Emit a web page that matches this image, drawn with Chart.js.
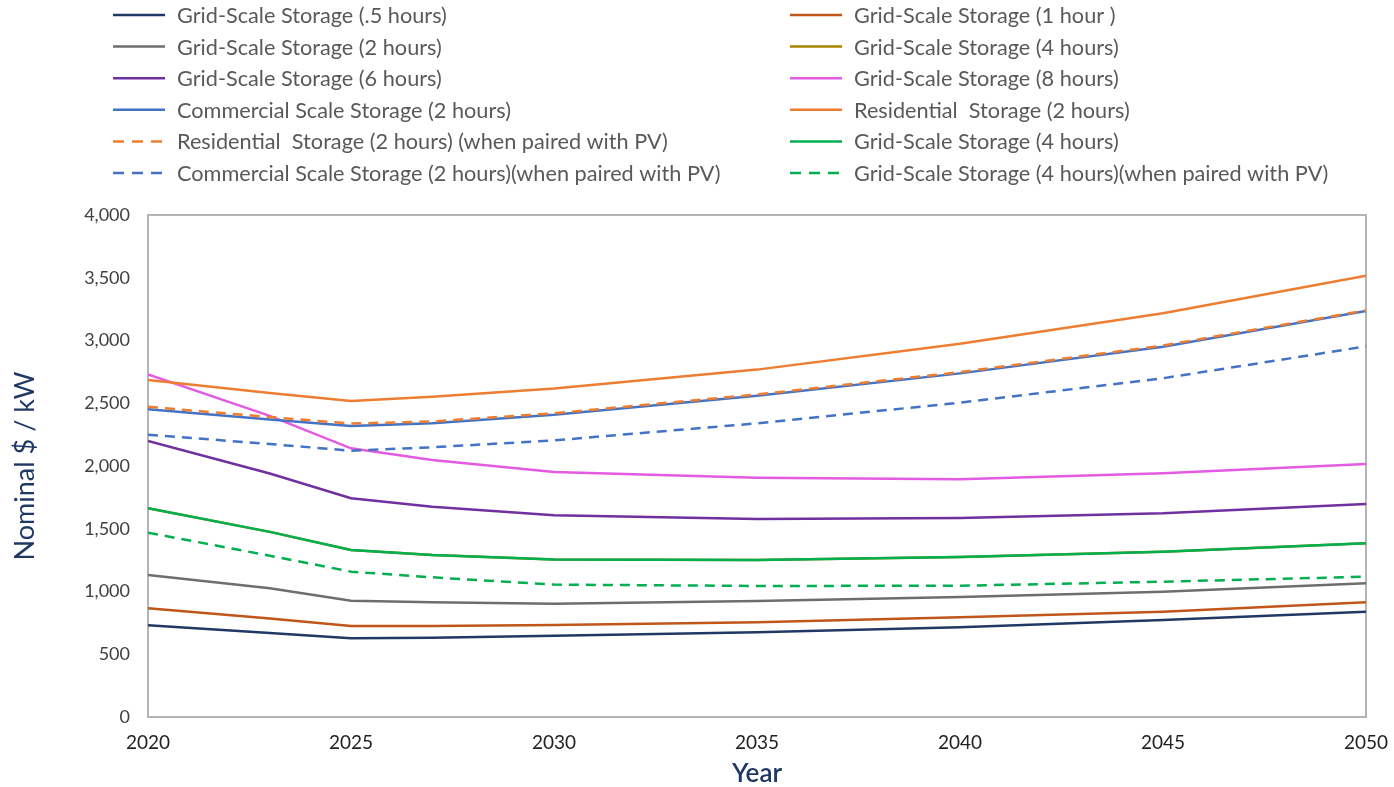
<!DOCTYPE html>
<html>
<head>
<meta charset="utf-8">
<script src="https://cdn.jsdelivr.net/npm/chart.js@4.4.0/dist/chart.umd.min.js"></script>
<style>
  html, body { margin: 0; padding: 0; background: #ffffff; }
  #wrap { width: 1394px; height: 787px; position: relative; }
</style>
</head>
<body>
<div id="wrap"><canvas id="c" width="1394" height="787"></canvas></div>
<script>
// Years on the horizontal axis
const years = [2020, 2023, 2025, 2027, 2030, 2035, 2040, 2045, 2050];

// Nominal $ / kW by technology
const gridHalfHour      = [731, 670, 627, 632, 648, 675, 716, 773, 839];
const gridOneHour       = [866, 785, 725, 725, 733, 754, 795, 839, 914];
const gridTwoHours      = [1131, 1025, 927, 914, 903, 924, 956, 998, 1065];
const gridFourHoursAlt  = [1663, 1475, 1331, 1291, 1254, 1251, 1275, 1317, 1384];
const gridSixHours      = [2199, 1940, 1743, 1676, 1607, 1578, 1585, 1623, 1697];
const gridEightHours    = [2730, 2400, 2141, 2048, 1952, 1907, 1895, 1942, 2016];
const commercialTwo     = [2452, 2370, 2319, 2340, 2408, 2560, 2738, 2951, 3235];
const residentialTwo    = [2685, 2582, 2518, 2552, 2617, 2768, 2975, 3217, 3516];
const residentialTwoPV  = [2472, 2390, 2338, 2355, 2420, 2570, 2748, 2960, 3240];
const gridFourHours     = [1663, 1475, 1331, 1291, 1254, 1251, 1275, 1317, 1384];
const commercialTwoPV   = [2250, 2175, 2122, 2149, 2204, 2340, 2505, 2699, 2953];
const gridFourHoursPV   = [1469, 1285, 1158, 1113, 1055, 1044, 1046, 1078, 1118];

// Y axis tick values
const yTicks = [0, 500, 1000, 1500, 2000, 2500, 3000, 3500, 4000];
// X axis tick values
const xTicks = [2020, 2025, 2030, 2035, 2040, 2045, 2050];

const seriesLabels = [
  'Grid-Scale Storage (.5 hours)',
  'Grid-Scale Storage (1 hour )',
  'Grid-Scale Storage (2 hours)',
  'Grid-Scale Storage (4 hours)',
  'Grid-Scale Storage (6 hours)',
  'Grid-Scale Storage (8 hours)',
  'Commercial Scale Storage (2 hours)',
  'Residential  Storage (2 hours)',
  'Residential  Storage (2 hours) (when paired with PV)',
  'Grid-Scale Storage (4 hours)',
  'Commercial Scale Storage (2 hours)(when paired with PV)',
  'Grid-Scale Storage (4 hours)(when paired with PV)'
];
const seriesValues = [
  gridHalfHour, gridOneHour, gridTwoHours, gridFourHoursAlt, gridSixHours, gridEightHours,
  commercialTwo, residentialTwo, residentialTwoPV, gridFourHours, commercialTwoPV, gridFourHoursPV
];

// Styling
const seriesColors = [
  '#203864', '#C0561A', '#6E6E6E', '#A88500', '#7030A0', '#E35BE3',
  '#4472C4', '#ED7D31', '#ED7D31', '#00B050', '#4472C4', '#00B050'
];
const dashed = [false, false, false, false, false, false, false, false, true, false, true, true];

const datasets = seriesValues.map((vals, i) => ({
  label: seriesLabels[i],
  data: years.map((y, k) => ({ x: y, y: vals[k] })),
  borderColor: seriesColors[i],
  backgroundColor: seriesColors[i],
  borderWidth: 2.5,
  borderDash: dashed[i] ? [10, 7] : [],
  pointRadius: 0,
  tension: 0,
  fill: false,
  order: seriesValues.length - i
}));

const FONT = 'Lato, "Open Sans", sans-serif';

// Two-column legend above the plot
const twoColumnLegend = {
  id: 'twoColumnLegend',
  afterDraw(chart) {
    const ctx = chart.ctx;
    ctx.save();
    ctx.font = '21.7px ' + FONT;
    ctx.textBaseline = 'middle';
    ctx.textAlign = 'left';
    chart.data.datasets.forEach((ds, i) => {
      const col = i % 2;
      const row = Math.floor(i / 2);
      const x0 = col ? 790 : 113;
      const y = 15 + row * 31.6;
      ctx.strokeStyle = ds.borderColor;
      ctx.lineWidth = 2.5;
      ctx.setLineDash(ds.borderDash.length ? [11, 8] : []);
      ctx.beginPath();
      ctx.moveTo(x0, y);
      ctx.lineTo(x0 + 52, y);
      ctx.stroke();
      ctx.setLineDash([]);
      ctx.fillStyle = '#595959';
      ctx.fillText(ds.label, x0 + 64, y + 1);
    });
    ctx.restore();
  }
};

// Frame around the plot area
const plotFrame = {
  id: 'plotFrame',
  beforeDatasetsDraw(chart) {
    const { ctx, chartArea: a } = chart;
    ctx.save();
    ctx.strokeStyle = '#B4B4B4';
    ctx.lineWidth = 2;
    ctx.strokeRect(a.left, a.top, a.right - a.left, a.bottom - a.top);
    ctx.restore();
  }
};

new Chart(document.getElementById('c'), {
  type: 'line',
  data: { datasets },
  options: {
    responsive: false,
    animation: false,
    layout: { padding: { top: 215, right: 28, bottom: 0, left: 0 } },
    plugins: { legend: { display: false }, tooltip: { enabled: false } },
    scales: {
      x: {
        type: 'linear',
        min: 2020,
        max: 2050,
        afterBuildTicks: s => { s.ticks = xTicks.map(v => ({ value: v })); },
        afterFit: s => { s.height = 70; s.paddingLeft = 0; s.paddingRight = 0; },
        grid: { display: false, drawTicks: false },
        border: { display: false },
        ticks: {
          padding: 14,
          maxRotation: 0,
          color: '#222222',
          font: { family: FONT, size: 19 },
          callback: v => String(v)
        },
        title: {
          display: true,
          text: 'Year',
          color: '#1F3864',
          padding: { top: 0, bottom: 0 },
          font: { family: FONT, size: 26, weight: '600', lineHeight: 1 }
        }
      },
      y: {
        min: 0,
        max: 4000,
        afterBuildTicks: s => { s.ticks = yTicks.map(v => ({ value: v })); },
        afterFit: s => { s.width = 148; },
        grid: { display: false, drawTicks: false },
        border: { display: false },
        ticks: {
          padding: 18,
          color: '#404040',
          font: { family: FONT, size: 18 },
          callback: v => v.toLocaleString('en-US')
        },
        title: {
          display: true,
          text: 'Nominal $ / kW',
          color: '#1F3864',
          padding: { top: 12, bottom: 0 },
          font: { family: FONT, size: 27, lineHeight: 1 }
        }
      }
    }
  },
  plugins: [twoColumnLegend, plotFrame]
});
</script>
</body>
</html>
